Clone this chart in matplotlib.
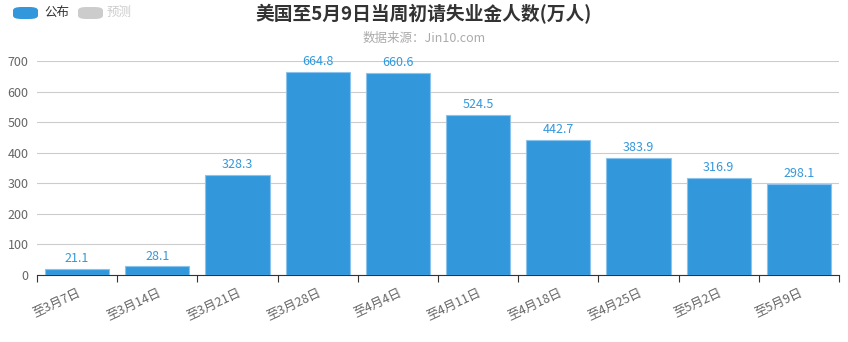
import matplotlib
matplotlib.use('Agg')
import matplotlib.pyplot as plt
from matplotlib.patches import FancyBboxPatch
import numpy as np

plt.rcParams['font.family'] = ['Noto Sans CJK SC', 'DejaVu Sans']

# data
weeks = ['至3月7日', '至3月14日', '至3月21日', '至3月28日', '至4月4日',
         '至4月11日', '至4月18日', '至4月25日', '至5月2日', '至5月9日']
claims = [21.1, 28.1, 328.3, 664.8, 660.6, 524.5, 442.7, 383.9, 316.9, 298.1]
yticks = [0, 100, 200, 300, 400, 500, 600, 700]

blue = '#3398DB'

fig = plt.figure(figsize=(8.48, 3.42), dpi=100)
ax = fig.add_axes([37 / 848, 1 - 275 / 342, 802 / 848, 214 / 342])

x = np.arange(len(weeks))
bars = ax.bar(x, claims, width=0.8, color=blue, edgecolor='#8cc3ec', linewidth=0.8, zorder=3)
for xi, v in zip(x, claims):
    ax.text(xi, v + 12, f'{v:.1f}', ha='center', va='bottom', color=blue, fontsize=9)

ax.set_xlim(-0.5, len(weeks) - 0.5)
ax.set_ylim(0, 700)
ax.set_yticks(yticks)
ax.grid(axis='y', color='#cccccc', linewidth=0.8, zorder=0)
ax.tick_params(axis='y', length=0, labelsize=9, labelcolor='#666666', pad=6)

# x ticks at category boundaries, labels at centers
ax.set_xticks(np.arange(len(weeks) + 1) - 0.5)
ax.set_xticklabels([])
ax.set_xticks(x, minor=True)
ax.set_xticklabels(weeks, minor=True, rotation=25, ha='right', rotation_mode='anchor',
                   fontsize=9, color='#666666')
ax.tick_params(axis='x', which='major', length=5, color='#333333')
ax.tick_params(axis='x', which='minor', length=0, pad=8)
for s in ['top', 'right', 'left']:
    ax.spines[s].set_visible(False)
ax.spines['bottom'].set_color('#333333')

fig.text(0.5, 1 - 14 / 342, '美国至5月9日当周初请失业金人数(万人)', ha='center', va='center',
         fontsize=13.5, fontweight='bold', color='#333333')
fig.text(0.5, 1 - 38 / 342, '数据来源：Jin10.com', ha='center', va='center',
         fontsize=9, color='#aaaaaa')

# legend
fig.patches.append(FancyBboxPatch((13 / 848, 1 - 19 / 342), 25 / 848, 12 / 342,
                                  boxstyle='round,pad=0,rounding_size=0.01',
                                  transform=fig.transFigure, facecolor=blue, edgecolor='none'))
fig.text(44 / 848, 1 - 12 / 342, '公布', va='center', fontsize=9, color='#333333')
fig.patches.append(FancyBboxPatch((78 / 848, 1 - 19 / 342), 25 / 848, 12 / 342,
                                  boxstyle='round,pad=0,rounding_size=0.01',
                                  transform=fig.transFigure, facecolor='#cccccc', edgecolor='none'))
fig.text(107 / 848, 1 - 12 / 342, '预测', va='center', fontsize=9, color='#cccccc')

fig.savefig('out.png', dpi=100)
